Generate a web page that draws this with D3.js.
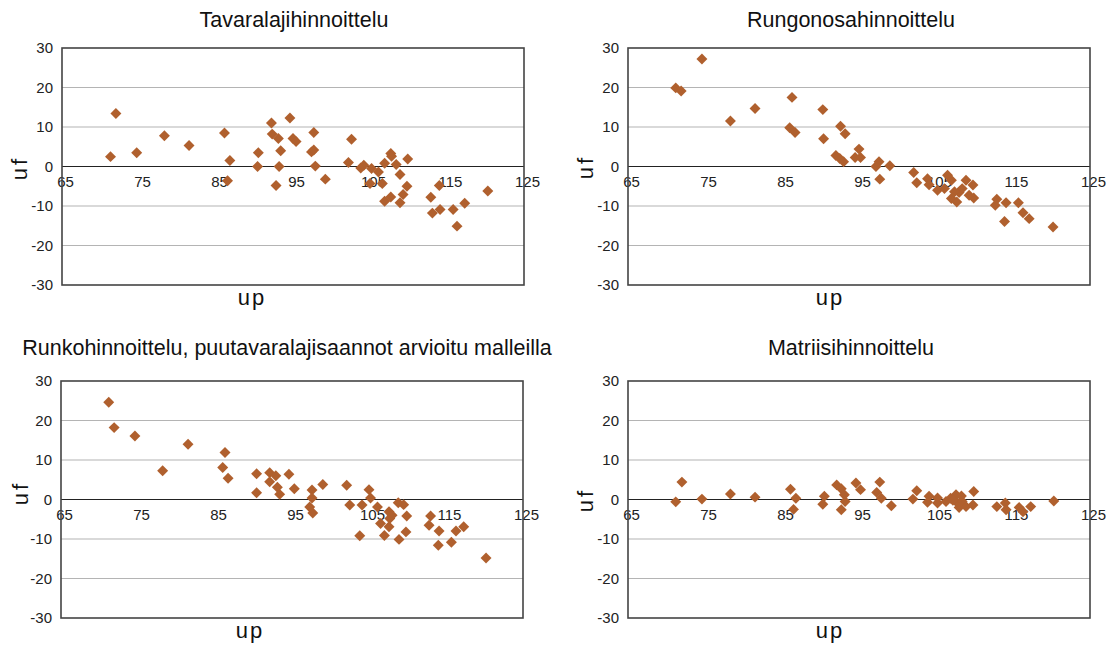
<!DOCTYPE html>
<html>
<head>
<meta charset="utf-8">
<script src="https://cdn.jsdelivr.net/npm/d3@7"></script>
<style>
  html, body { margin: 0; padding: 0; background: #fff; }
  svg { display: block; font-family: "Liberation Sans", Arial, sans-serif; }
</style>
</head>
<body>
<svg id="chart" width="1109" height="645"></svg>
<script>
// Relative price level (up) vs. relative deviation (uf) for four pricing methods.
const xTicks = [65, 75, 85, 95, 105, 115, 125];
const yTicks = [-30, -20, -10, 0, 10, 20, 30];

const titles = [
  "Tavaralajihinnoittelu",
  "Rungonosahinnoittelu",
  "Runkohinnoittelu, puutavaralajisaannot arvioitu malleilla",
  "Matriisihinnoittelu"
];

// [up, uf] pairs per method
const tavaralajiPoints = [
  [72.0,13.4],[71.3,2.5],[74.7,3.5],[78.3,7.8],[81.5,5.3],[86.1,8.5],[86.8,1.5],[86.5,-3.6],
  [90.5,3.5],[90.4,0],[92.2,11.0],[92.3,8.2],[93.1,7.1],[93.4,4.0],[93.2,0],[92.8,-4.8],
  [94.6,12.3],[95.0,7.1],[95.4,6.3],[97.7,8.6],[97.4,3.7],[97.7,4.2],[97.9,0.1],[99.2,-3.2],
  [102.6,6.9],[102.2,1.0],[103.8,-0.4],[104.2,0.3],[105.2,-0.5],[105.0,-4.3],[106.1,-1.4],
  [106.6,-4.3],[106.9,0.8],[107.7,3.3],[107.8,2.6],[108.4,0.5],[108.9,-2.0],[109.9,1.9],
  [109.8,-5.0],[109.3,-7.1],[108.9,-9.2],[106.9,-8.8],[107.7,-7.7],[112.9,-7.8],[114.0,-4.8],
  [113.1,-11.8],[114.1,-10.9],[115.8,-10.9],[117.3,-9.3],[116.3,-15.1],[120.3,-6.2]
];

const rungonosaPoints = [
  [74.6,27.2],[71.2,19.9],[71.9,19.1],[78.3,11.5],[81.5,14.7],[86.3,17.5],[86.0,9.8],[86.7,8.6],
  [90.3,14.4],[90.4,7.0],[92.6,10.2],[93.2,8.3],[92.0,2.8],[92.5,2.0],[93.0,1.2],[95.0,4.4],
  [94.5,2.3],[95.2,2.3],[97.6,1.2],[97.2,0],[97.7,-3.2],[99.0,0.2],[102.1,-1.5],[102.5,-4.1],
  [103.9,-3.1],[104.1,-4.6],[105.2,-6.0],[106.5,-2.2],[107.0,-3.5],[106.1,-5.6],[107.0,-8.1],
  [107.7,-9.0],[108.0,-6.6],[108.9,-3.5],[109.8,-4.7],[109.3,-7.3],[109.9,-8.0],[108.4,-5.6],
  [107.4,-6.4],[112.9,-8.3],[112.7,-9.8],[114.1,-9.2],[113.9,-13.9],[115.7,-9.2],[116.3,-11.7],
  [117.1,-13.2],[120.2,-15.3]
];

const runkoPoints = [
  [71.2,24.6],[71.9,18.2],[74.6,16.1],[78.2,7.3],[81.5,14.0],[86.3,11.9],[86.0,8.1],[86.7,5.4],
  [90.4,6.5],[90.4,1.7],[92.1,6.8],[92.9,6.0],[92.1,4.5],[93.1,3.1],[93.4,1.3],[94.6,6.4],
  [95.3,2.7],[97.6,2.4],[97.6,0.4],[97.3,-1.9],[97.7,-3.4],[99.0,3.8],[102.1,3.6],[102.5,-1.4],
  [103.8,-9.2],[104.1,-1.4],[105.0,2.5],[105.2,0.4],[106.1,-1.9],[106.5,-6.1],[107.0,-9.1],
  [107.6,-3.1],[107.7,-4.8],[108.0,-4.0],[107.6,-6.9],[108.8,-0.8],[109.5,-1.3],[109.9,-4.2],
  [109.8,-8.2],[108.9,-10.1],[113.0,-4.2],[112.8,-6.5],[114.1,-8.0],[114.0,-11.6],[115.7,-10.8],
  [116.3,-8.0],[117.3,-6.9],[120.2,-14.8]
];

const matriisiPoints = [
  [71.2,-0.6],[72.0,4.4],[74.6,0.1],[78.3,1.4],[81.5,0.6],[86.1,2.6],[86.8,0.3],[86.5,-2.5],
  [90.5,0.8],[90.3,-1.2],[92.1,3.7],[92.7,2.7],[93.1,1.2],[93.2,-0.5],[92.7,-2.6],[94.6,4.2],
  [95.2,2.5],[97.7,4.4],[97.3,1.8],[97.9,0.3],[99.2,-1.6],[102.5,2.2],[102.0,0.1],[104.1,0.8],
  [103.9,-0.7],[105.2,0.4],[105.2,-0.9],[106.3,-0.5],[106.9,0.3],[107.6,1.2],[107.8,-0.9],
  [108.4,-0.5],[108.9,-1.8],[109.9,2.0],[109.8,-1.4],[107.2,-0.2],[108.3,0.9],[108.0,-2.0],
  [112.9,-1.8],[114.0,-0.9],[114.1,-2.6],[115.8,-2.0],[116.3,-3.1],[117.3,-1.8],[120.3,-0.4]
];

const seriesList = [tavaralajiPoints, rungonosaPoints, runkoPoints, matriisiPoints];

// Panel geometry: plot rectangle and label anchors
const panels = [
  { left: 62,  right: 524,  top: 48,  bottom: 285, titleX: 294, titleY: 27,  upX: 252, upY: 305, ufX: 27,  ufY: 168 },
  { left: 628, right: 1090, top: 48,  bottom: 285, titleX: 851, titleY: 27,  upX: 830, upY: 305, ufX: 593, ufY: 167 },
  { left: 61,  right: 523,  top: 381, bottom: 618, titleX: 287, titleY: 355, upX: 250, upY: 638, ufX: 28,  ufY: 493 },
  { left: 628, right: 1090, top: 381, bottom: 618, titleX: 851, titleY: 355, upX: 830, upY: 638, ufX: 593, ufY: 500 }
];

const markerColor = "#B0602E";
const svg = d3.select("#chart");
const diamond = d3.symbol().type(d3.symbolSquare).size(60);
const plainNumber = d => String(d);   // keeps the ASCII hyphen for negatives

panels.forEach((p, i) => {
  const x = d3.scaleLinear().domain([65, 125]).range([p.left, p.right]);
  const y = d3.scaleLinear().domain([-30, 30]).range([p.bottom, p.top]);
  const g = svg.append("g");

  // title
  g.append("text")
    .attr("x", p.titleX).attr("y", p.titleY)
    .attr("text-anchor", "middle")
    .attr("font-size", 21.5).attr("fill", "#111")
    .text(titles[i]);

  // horizontal gridlines
  g.selectAll(".grid").data(yTicks.filter(v => v !== 0 && Math.abs(v) !== 30)).enter()
    .append("line")
    .attr("x1", p.left).attr("x2", p.right)
    .attr("y1", d => y(d)).attr("y2", d => y(d))
    .attr("stroke", "#b4b4b4").attr("stroke-width", 1.2);

  // y axis tick labels
  const yAxis = d3.axisLeft(y).tickValues(yTicks).tickSize(0).tickPadding(9).tickFormat(plainNumber);
  const ya = g.append("g").attr("transform", `translate(${p.left},0)`).call(yAxis);
  ya.select(".domain").remove();
  ya.selectAll("text").attr("font-size", 15).attr("fill", "#222")
    .attr("font-family", "Liberation Sans, Arial, sans-serif");

  // x axis along uf = 0
  const xAxis = d3.axisBottom(x).tickValues(xTicks).tickSize(0).tickPadding(10).tickFormat(plainNumber);
  const xa = g.append("g").attr("transform", `translate(0,${y(0)})`).call(xAxis);
  xa.select(".domain").remove();
  xa.selectAll("text").attr("font-size", 15).attr("fill", "#222").attr("dx", 3)
    .attr("font-family", "Liberation Sans, Arial, sans-serif");

  g.append("line")
    .attr("x1", p.left).attr("x2", p.right)
    .attr("y1", y(0)).attr("y2", y(0))
    .attr("stroke", "#222").attr("stroke-width", 1.2);

  // plot border
  g.append("rect")
    .attr("x", p.left).attr("y", p.top)
    .attr("width", p.right - p.left).attr("height", p.bottom - p.top)
    .attr("fill", "none").attr("stroke", "#444").attr("stroke-width", 1.6);

  // markers
  g.selectAll(".pt").data(seriesList[i]).enter()
    .append("path")
    .attr("d", diamond)
    .attr("transform", d => `translate(${x(d[0])},${y(d[1])}) rotate(45)`)
    .attr("fill", markerColor);

  // axis titles
  g.append("text")
    .attr("x", p.upX).attr("y", p.upY)
    .attr("text-anchor", "middle")
    .attr("font-size", 22).attr("letter-spacing", 2).attr("fill", "#111")
    .text("up");

  g.append("text")
    .attr("transform", `translate(${p.ufX},${p.ufY}) rotate(-90)`)
    .attr("text-anchor", "middle")
    .attr("font-size", 22).attr("letter-spacing", 3).attr("fill", "#111")
    .text("uf");
});
</script>
</body>
</html>
